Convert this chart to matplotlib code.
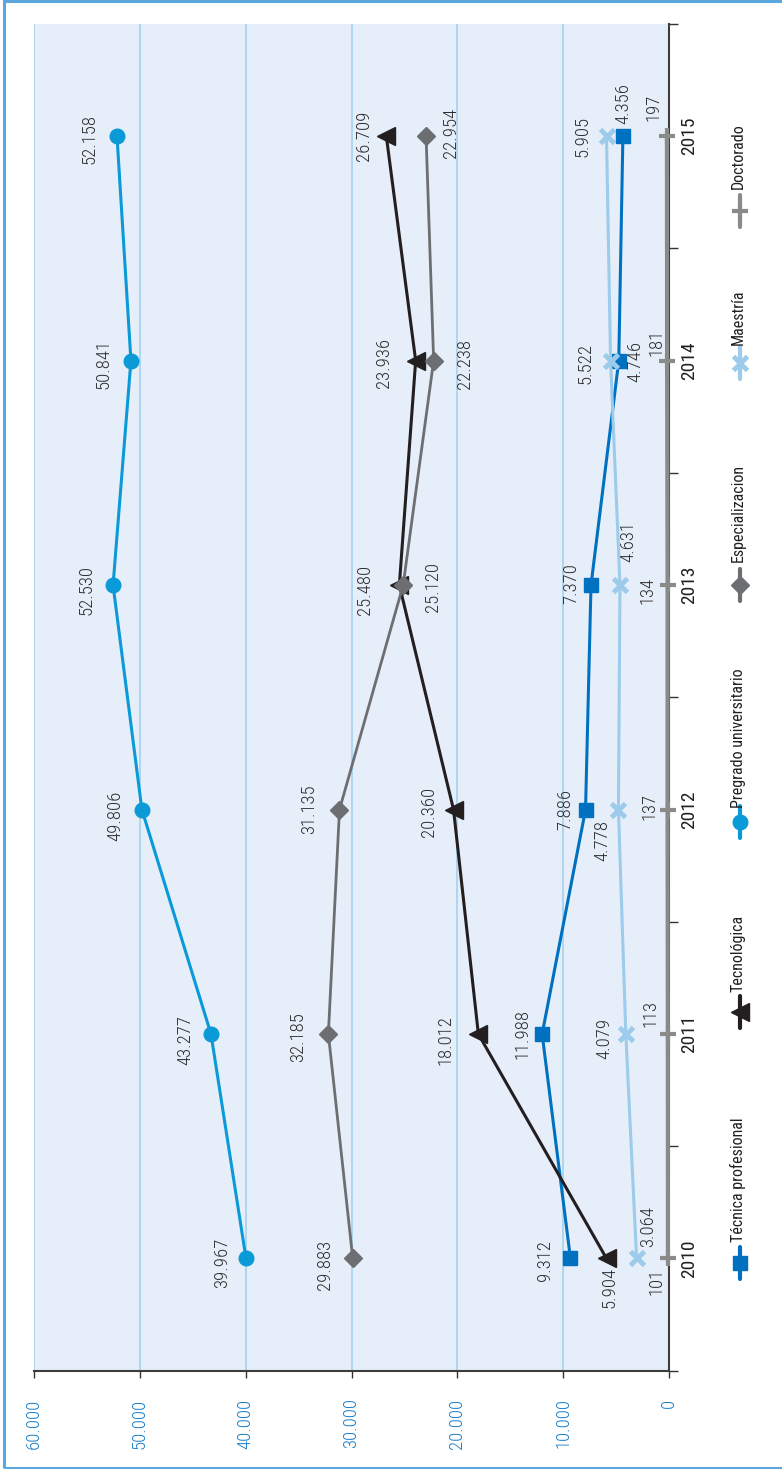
import matplotlib
matplotlib.use('agg')
import matplotlib.pyplot as plt
from matplotlib import font_manager
from matplotlib.lines import Line2D
from matplotlib.patches import Rectangle
import numpy as np

# data
years = [2010, 2011, 2012, 2013, 2014, 2015]
tecnica = [9312, 11988, 7886, 7370, 4746, 4356]
tecnologica = [5904, 18012, 20360, 25480, 23936, 26709]
pregrado = [39967, 43277, 49806, 52530, 50841, 52158]
especializacion = [29883, 32185, 31135, 25120, 22238, 22954]
maestria = [3064, 4079, 4778, 4631, 5522, 5905]
doctorado = [101, 113, 137, 134, 181, 197]
series_names = ['Técnica profesional', 'Tecnológica', 'Pregrado universitario',
                'Especializacion', 'Maestría', 'Doctorado']
value_ticks = [0, 10000, 20000, 30000, 40000, 50000, 60000]

# pick a narrow face if one is there
have = {f.name for f in font_manager.fontManager.ttflist}
face = next((n for n in ['Roboto Condensed', 'Liberation Sans Narrow',
                         'Open Sans Condensed', 'Roboto'] if n in have), 'DejaVu Sans')
plt.rcParams['font.family'] = [face, 'DejaVu Sans']

W, H = 782, 1469
fig = plt.figure(figsize=(W / 100, H / 100), dpi=100)
# chart is drawn turned a quarter turn: values run right-to-left, years bottom-to-top
ax = fig.add_axes([34 / W, 1 - 1370.7 / H, (669 - 34) / W, (1370.7 - 24) / H])
ax.set_facecolor('#e6eef9')
ax.set_xlim(60000, 0)
ax.set_ylim(2009.5, 2015.5)


def fmt(v):
    return f'{v:,}'.replace(',', '.')


# styles: color, marker, marker size, mew, line width, label offsets (px: right, down)
styles = [
    ('#0070c0', 's', 10.5, 1, 2.2,
     [(-25, 2), (-20, 0), (-20, 0), (-20, -2), (17, 1), (0, -33)]),
    ('#231f20', '<', 12.5, 1, 2.2,
     [(3, 29), (-33, 6), (-25, 2), (-34, 5), (-32, 2), (-22, 0)]),
    ('#0a9ad7', 'o', 10.5, 1, 2.2,
     [(-24, 4), (-26, 6), (-27, 6), (-27, 5), (-27, 3), (-27, 3)]),
    ('#6d6e71', 'D', 9.0, 1, 2.0,
     [(-28, 6), (-30, 3), (-30, 0), (30, 2), (31, 3), (25, -3)]),
    ('#9ccbeb', 'x', 10.0, 3.5, 2.2,
     [(12, -32), (-21, 4), (-16, 31), (8, -44), (-25, 3), (-24, 0)]),
    ('#8a8a8a', '+', 12.0, 3.0, 3.0,
     [(-11, 23), (-17, -21), (-18, -3), (-20, 5), (-11, -18), (-13, -29)]),
]
all_series = [tecnica, tecnologica, pregrado, especializacion, maestria, doctorado]

for vals, (col, mk, ms, mew, lw, offs) in zip(all_series, styles):
    ax.plot(vals, years, color=col, lw=lw, marker=mk, ms=ms, mew=mew,
            mec=col, mfc=col, clip_on=False, zorder=3)
    for v, yr, (dx, dy) in zip(vals, years, offs):
        ax.annotate(fmt(v), (v, yr), xytext=(dx, -dy), textcoords='offset pixels',
                    rotation=90, ha='center', va='center', fontsize=13.5,
                    fontweight='light', color='#2e2e2e', zorder=4)

# axes
ax.set_xticks(value_ticks)
ax.set_xticklabels([fmt(v) for v in value_ticks])
ax.tick_params(axis='x', direction='out', length=5, width=1, color='#333333',
               pad=15, labelrotation=90, labelcolor='#1a7fc9', labelsize=13.5)
for lbl in ax.get_xticklabels():
    lbl.set_fontweight('light')
ax.grid(axis='x', color='#a8d4f0', lw=1.3)
ax.set_axisbelow(True)

ax.yaxis.tick_right()
ax.set_yticks(years)
ax.set_yticklabels([str(y) for y in years], rotation=90)
ax.tick_params(axis='y', which='major', length=0, pad=8, labelsize=14,
               labelcolor='#231f20')
for lbl in ax.get_yticklabels():
    lbl.set_va('center')
    lbl.set_fontweight('normal')
ax.set_yticks(np.arange(2009.5, 2016, 1), minor=True)
ax.tick_params(axis='y', which='minor', length=6.5, width=1, color='#333333',
               direction='out')

for s in ['left', 'top']:
    ax.spines[s].set_visible(False)
for s in ['right', 'bottom']:
    ax.spines[s].set_color('#3c3c3c')
    ax.spines[s].set_linewidth(1.5)

# legend, drawn by hand so it can be turned too
leg_marker_y = [1263, 1012, 822, 585, 363, 211]
leg_text_y = [1242, 992, 808, 562, 345, 189]
for name, (col, mk, ms, mew, lw, _), ym, yt in zip(series_names, styles,
                                                   leg_marker_y, leg_text_y):
    fx = 740 / W
    fy = 1 - ym / H
    fig.add_artist(Line2D([fx, fx, fx], [fy - 16 / H, fy, fy + 16 / H],
                          transform=fig.transFigure, color=col, lw=3,
                          marker=mk, ms=ms, mew=mew, mec=col, mfc=col,
                          markevery=[1], solid_capstyle='round'))
    fig.text(738 / W, 1 - yt / H, name, rotation=90, ha='center', va='bottom',
             fontsize=11.5, color='#231f20')

# outer frame
fig.add_artist(Rectangle((4 / W, 1 / H), 1.2, 1 - 2 / H, transform=fig.transFigure,
                         fill=False, edgecolor='#5aa7de', lw=2.2))

fig.savefig('out.png', dpi=100)
